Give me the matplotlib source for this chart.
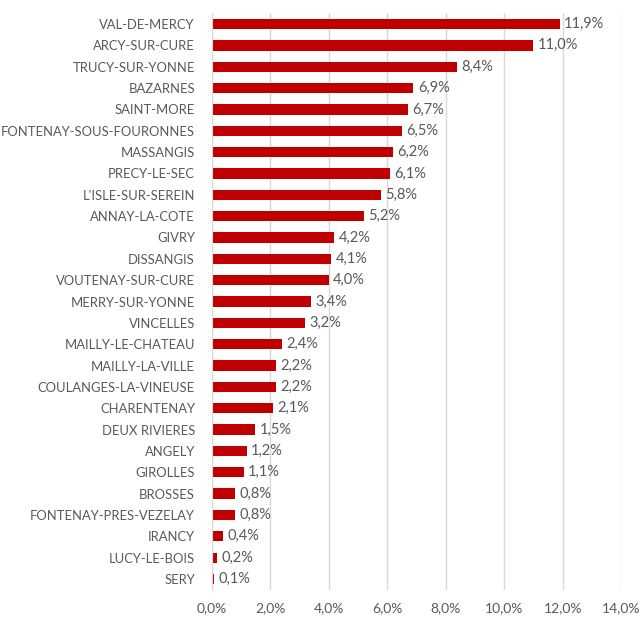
import matplotlib
matplotlib.use("Agg")
import matplotlib.pyplot as plt
from matplotlib.ticker import FuncFormatter, MultipleLocator

communes = ["VAL-DE-MERCY", "ARCY-SUR-CURE", "TRUCY-SUR-YONNE", "BAZARNES", "SAINT-MORE",
            "FONTENAY-SOUS-FOURONNES", "MASSANGIS", "PRECY-LE-SEC", "L'ISLE-SUR-SEREIN",
            "ANNAY-LA-COTE", "GIVRY", "DISSANGIS", "VOUTENAY-SUR-CURE", "MERRY-SUR-YONNE",
            "VINCELLES", "MAILLY-LE-CHATEAU", "MAILLY-LA-VILLE", "COULANGES-LA-VINEUSE",
            "CHARENTENAY", "DEUX RIVIERES", "ANGELY", "GIROLLES", "BROSSES",
            "FONTENAY-PRES-VEZELAY", "IRANCY", "LUCY-LE-BOIS", "SERY"]
values = [11.9, 11.0, 8.4, 6.9, 6.7, 6.5, 6.2, 6.1, 5.8, 5.2, 4.2, 4.1, 4.0, 3.4, 3.2,
          2.4, 2.2, 2.2, 2.1, 1.5, 1.2, 1.1, 0.8, 0.8, 0.4, 0.2, 0.1]

plt.rcParams['font.family'] = ['Lato', 'DejaVu Sans']
txt = '#595959'

fig = plt.figure(figsize=(6.43, 6.19), dpi=100)
ax = fig.add_axes([0.329, 0.0474, 0.637, 0.931])

y = list(range(len(communes)))
ax.barh(y, values, height=0.48, color='#c00000', zorder=3)
ax.set_ylim(len(communes) - 0.5, -0.5)
ax.set_yticks(y)
ax.set_yticklabels(communes, fontsize=9.4, color=txt)
ax.set_xlim(0, 14)
ax.xaxis.set_major_locator(MultipleLocator(2))
ax.xaxis.set_major_formatter(FuncFormatter(lambda v, p: f"{v:.1f}%".replace('.', ',')))
ax.tick_params(axis='x', labelsize=10, colors=txt, length=0, pad=9)
ax.tick_params(axis='y', length=0, pad=12)
ax.grid(axis='x', color='#d9d9d9', linewidth=1, zorder=0)
for s in ['top', 'right', 'bottom']:
    ax.spines[s].set_visible(False)
ax.spines['left'].set_color('#d9d9d9')
ax.spines['left'].set_zorder(4)

for yi, v in zip(y, values):
    ax.text(v + 0.15, yi, f"{v:.1f}%".replace('.', ','), va='center', ha='left',
            fontsize=10.5, color=txt)

fig.savefig('out.png', dpi=100)
